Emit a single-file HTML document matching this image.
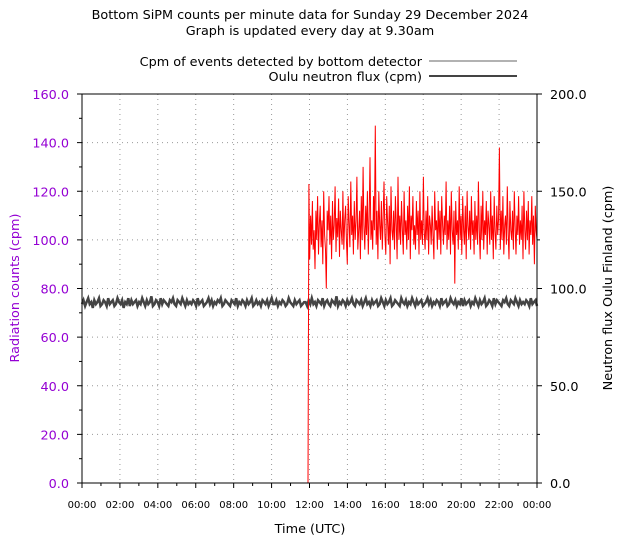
<!DOCTYPE html>
<html><head><meta charset="utf-8"><style>
body{margin:0;background:#fff;}
svg{display:block;font-family:"DejaVu Sans","Liberation Sans",sans-serif;}
</style></head><body>
<svg id="chart" width="640" height="540" viewBox="0 0 640 540" xmlns="http://www.w3.org/2000/svg">
<text x="310" y="19" font-size="12.8" text-anchor="middle">Bottom SiPM counts per minute data for Sunday 29 December 2024</text>
<text x="310" y="35" font-size="12.8" text-anchor="middle">Graph is updated every day at 9.30am</text>
<g>
<text x="422" y="66" font-size="12.8" text-anchor="end">Cpm of events detected by bottom detector</text>
<line x1="429" y1="61" x2="517" y2="61" stroke="#333" stroke-width="0.8"/>
<text x="422" y="81" font-size="12.8" text-anchor="end">Oulu neutron flux (cpm)</text>
<line x1="429" y1="76" x2="517" y2="76" stroke="#444" stroke-width="2"/>
</g>
<g id="grid"></g>
<g id="series"></g>
<g id="axes"></g>
<text transform="translate(19,288) rotate(-90)" font-size="12.8" fill="#9400d3" text-anchor="middle">Radiation counts (cpm)</text>
<text transform="translate(612,288) rotate(-90)" font-size="12.8" text-anchor="middle">Neutron flux Oulu Finland (cpm)</text>
<text x="310" y="533" font-size="12.8" text-anchor="middle">Time (UTC)</text>
</svg>
<script>
const xTickLabels=["00:00","02:00","04:00","06:00","08:00","10:00","12:00","14:00","16:00","18:00","20:00","22:00","00:00"];
const leftTicks=[0,20,40,60,80,100,120,140,160];
const rightTicks=[0,50,100,150,200];
const sipmStartHour=11.92;
const sipmEndHour=24;
const sipmValues=[0,123,92,110,98,116,96,104,88,112,100,118,94,106,114,97,108,90,120,102,96,80,112,104,118,98,110,92,116,100,106,122,95,109,101,117,93,112,104,98,120,96,108,114,100,90,118,106,97,124,102,110,94,116,100,108,126,96,104,112,92,118,100,130,106,96,114,102,120,94,110,134,100,108,96,118,104,147,98,112,92,120,106,100,116,96,110,124,102,94,118,108,98,114,90,122,104,100,112,96,118,106,92,126,100,110,98,116,104,94,120,102,108,96,114,100,122,92,110,104,118,98,106,96,116,102,112,94,120,100,108,98,126,104,96,112,100,118,94,110,106,98,114,102,92,120,104,108,96,116,100,112,94,118,106,98,110,102,124,96,108,100,114,94,120,104,98,112,82,116,102,108,96,122,100,110,94,118,104,98,114,92,120,106,100,112,96,118,102,108,94,116,100,110,98,124,104,92,114,100,120,96,108,102,116,94,112,106,98,120,100,110,92,118,104,96,114,102,108,138,96,112,100,118,94,106,110,98,122,102,92,116,104,100,112,96,120,106,94,110,102,118,98,108,100,114,92,120,104,96,112,100,116,94,108,102,118,98,110,90,114,104,100].slice(0,270);
const ouluStartHour=0;
const ouluEndHour=24;
const ouluValues=[92,94,91,93,95,92,93,90,94,92,93,95,91,92,94,93,91,95,92,93,94,91,92,95,93,92,94,90,93,92,95,91,94,92,93,94,91,93,92,95,93,91,94,92,93,96,91,92,94,93,91,95,92,94,93,92,91,94,93,95,92,91,94,93,92,95,93,91,94,92,93,92,94,93,91,95,92,93,94,91,92,93,95,92,94,91,93,92,94,93,95,91,92,94,93,92,91,94,93,92,95,91,93,92,94,93,91,94,92,93,95,91,92,94,92,93,91,94,93,92,94,91,93,95,92,92,94,91,93,92,94,93,91,92,95,93,92,91,94,92,93,94,91,92,93,93,91,94,92,95,92,93,91,94,93,92,95,91,93,94,92,91,94,93,92,96,91,93,92,94,93,91,94,92,93,95,92,91,94,93,92,94,91,93,95,92,93,91,94,92,93,94,91,92,95,93,91,94,92,93,95,91,92,94,93,92,91,95,93,92,94,91,93,92,95,93,91,94,92,93,94,91,92,93,95,92,94,91,93,92,94,93,91,95,92,93,94,91,92,95,93,92,94,91,93,92,95,91,94,92,93,94,91,93,92,95,93,91,94,92,93,95,91,92,94,93,91,95,92,94,93,92,91,94,93,95,92,91,94,93,92,95,93,91,94,92,93,92,94,93,91,95,92,93,94,91];
const L=82,R=537,T=94,B=483;
const xs=h=>L+(R-L)*h/24;
const yl=v=>B-(B-T)*v/160;
const yr=v=>B-(B-T)*v/200;
const NS="http://www.w3.org/2000/svg";
function mk(tag,attrs,parent){const e=document.createElementNS(NS,tag);for(const k in attrs)e.setAttribute(k,attrs[k]);parent.appendChild(e);return e;}
const grid=document.getElementById('grid'),axes=document.getElementById('axes'),series=document.getElementById('series');
xTickLabels.forEach((t,i)=>{const x=xs(i*2);
 if(i>0&&i<12){const g=mk('line',{x1:x,y1:T,x2:x,y2:B,stroke:'#999','stroke-dasharray':'1,4','stroke-width':1},grid);
 
 }
 const tk=mk('line',{x1:x,y1:B,x2:x,y2:B+5,stroke:'#000'},axes);
 
 
 const tx=mk('text',{x:x,y:B+25,'font-size':10,'text-anchor':'middle'},axes);tx.textContent=t;
 
 
 if(i<12){const m=mk('line',{x1:xs(i*2+1),y1:B,x2:xs(i*2+1),y2:B+3,stroke:'#000'},axes);
 
 }
});
leftTicks.forEach((v,i)=>{const y=yl(v);
 if(i>0&&i<8){const g=mk('line',{x1:L,y1:y,x2:R,y2:y,stroke:'#999','stroke-dasharray':'1,4','stroke-width':1},grid);
 
 }
 const tk=mk('line',{x1:L-5,y1:y,x2:L,y2:y,stroke:'#000'},axes);
 
 
 if(i<8){const m=mk('line',{x1:L-3,y1:yl(v+10),x2:L,y2:yl(v+10),stroke:'#000'},axes);
 
 }
 const tx=mk('text',{x:L-13,y:y+5,'font-size':12.8,'text-anchor':'end',fill:'#9400d3'},axes);tx.textContent=v.toFixed(1);
 
 
});
rightTicks.forEach((v,i)=>{const y=yr(v);
 const tk=mk('line',{x1:R,y1:y,x2:R+5,y2:y,stroke:'#000'},axes);
 
 
 if(i<4){const m=mk('line',{x1:R,y1:yr(v+25),x2:R+3,y2:yr(v+25),stroke:'#000'},axes);
 
 }
 const tx=mk('text',{x:R+13,y:y+5,'font-size':12.8},axes);tx.textContent=v.toFixed(1);
 
 
});
const fr=mk('rect',{x:L,y:T,width:R-L,height:B-T,fill:'none',stroke:'#000','stroke-width':1},axes);


const on=ouluValues.length-1;
const op=ouluValues.map((v,i)=>xs(ouluStartHour+(ouluEndHour-ouluStartHour)*i/on).toFixed(1)+','+yr(v).toFixed(1)).join(' ');
const ol=mk('polyline',{points:op,fill:'none',stroke:'#444','stroke-width':2.5},series);


const sn=sipmValues.length-1;
const sp=sipmValues.map((v,i)=>xs(sipmStartHour+(sipmEndHour-sipmStartHour)*i/sn).toFixed(1)+','+yl(v).toFixed(1)).join(' ');
const sl=mk('polyline',{points:sp,fill:'none',stroke:'#ff0000','stroke-width':1},series);


</script>
</body></html>
